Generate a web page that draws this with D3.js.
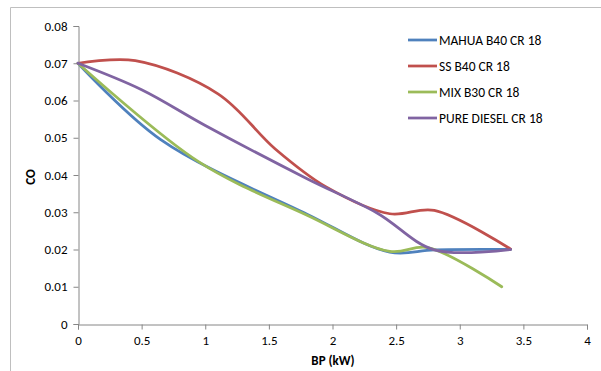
<!DOCTYPE html>
<html><head><meta charset="utf-8">
<script src="https://cdn.jsdelivr.net/npm/d3@7"></script>
<style>
body{margin:0;background:#fff;}
svg{display:block;font-family:Carlito,Lato,"Liberation Sans",sans-serif;}
</style></head>
<body>
<svg id="c" width="601" height="371"></svg>
<script>
const xTicks = [0, 0.5, 1, 1.5, 2, 2.5, 3, 3.5, 4];
const yTicks = [0, 0.01, 0.02, 0.03, 0.04, 0.05, 0.06, 0.07, 0.08];
const seriesNames = ["MAHUA B40 CR 18", "SS B40 CR 18", "MIX B30 CR 18", "PURE DIESEL CR 18"];
const seriesColors = ["#4F81BD", "#C0504D", "#9BBB59", "#8064A2"];
const mahuaX = [0, 0.65, 1.8, 2.45, 2.8, 3.4];
const mahuaY = [0.07, 0.0495, 0.0295, 0.0193, 0.0199, 0.02];
const ssX = [0, 0.45, 1.1, 1.55, 1.95, 2.45, 2.8, 3.4];
const ssY = [0.07, 0.0707, 0.0618, 0.047, 0.0368, 0.0296, 0.0305, 0.0201];
const mixX = [0, 0.95, 1.8, 2.45, 2.75, 3.33];
const mixY = [0.07, 0.0435, 0.0292, 0.0195, 0.0205, 0.01];
const dieselX = [0, 0.5, 1, 1.8, 2.35, 2.8, 3.4];
const dieselY = [0.07, 0.0629, 0.0533, 0.039, 0.0298, 0.0199, 0.02];

const seriesX = [mahuaX, ssX, mixX, dieselX];
const seriesY = [mahuaY, ssY, mixY, dieselY];

const FONT = "Carlito,Lato,'Liberation Sans',sans-serif";
const svg = d3.select("#c");
const x = d3.scaleLinear().domain([0, 4]).range([78, 587]);
const y = d3.scaleLinear().domain([0, 0.08]).range([324, 26]);

// outer chart frame
svg.append("path").attr("d", "M10.5,371 L10.5,7.5 L601,7.5")
  .attr("fill", "none").attr("stroke", "#BFBFBF").attr("stroke-width", 1);

const axisColor = "#868686";
const gx = svg.append("g").attr("transform", "translate(0,324.5)")
  .call(d3.axisBottom(x).tickValues(xTicks).tickSize(5).tickPadding(6).tickFormat(d => d3.format("")(d)));
const gy = svg.append("g").attr("transform", "translate(78.5,0)")
  .call(d3.axisLeft(y).tickValues(yTicks).tickSize(5).tickPadding(6).tickFormat(d => d === 0 ? "0" : d3.format(".2f")(d)));
[gx, gy].forEach(g => {
  g.select(".domain").attr("stroke", axisColor);
  g.selectAll(".tick line").attr("stroke", axisColor);
  g.selectAll(".tick text").attr("fill", "#000").style("font-size", "13px").style("font-family", FONT);
});
gx.selectAll(".tick text").attr("dy", "0.75em");

svg.append("text").attr("x", 333).attr("y", 365).attr("text-anchor", "middle")
  .style("font-size", "13px").style("font-weight", "bold").text("BP (kW)");
svg.append("text").attr("transform", "translate(35,177) rotate(-90)").attr("text-anchor", "middle")
  .style("font-size", "13px").style("font-weight", "bold").text("CO");

const line = d3.line().x(d => x(d[0])).y(d => y(d[1])).curve(d3.curveCatmullRom.alpha(0.5));
seriesNames.forEach((name, i) => {
  const pts = seriesX[i].map((v, j) => [v, seriesY[i][j]]);
  svg.append("path").datum(pts).attr("d", line)
    .attr("fill", "none").attr("stroke", seriesColors[i]).attr("stroke-width", 2.75)
    .attr("stroke-linejoin", "round").attr("stroke-linecap", "round");
});

// legend
const lg = svg.append("g");
seriesNames.forEach((name, i) => {
  const ly = 40 + i * 26;
  lg.append("line").attr("x1", 408).attr("x2", 437).attr("y1", ly).attr("y2", ly)
    .attr("stroke", seriesColors[i]).attr("stroke-width", 2.75);
  lg.append("text").attr("x", 439).attr("y", ly).attr("dy", "0.35em")
    .style("font-size", "13.5px").attr("fill", "#000").text(name);
});
</script>
</body></html>
